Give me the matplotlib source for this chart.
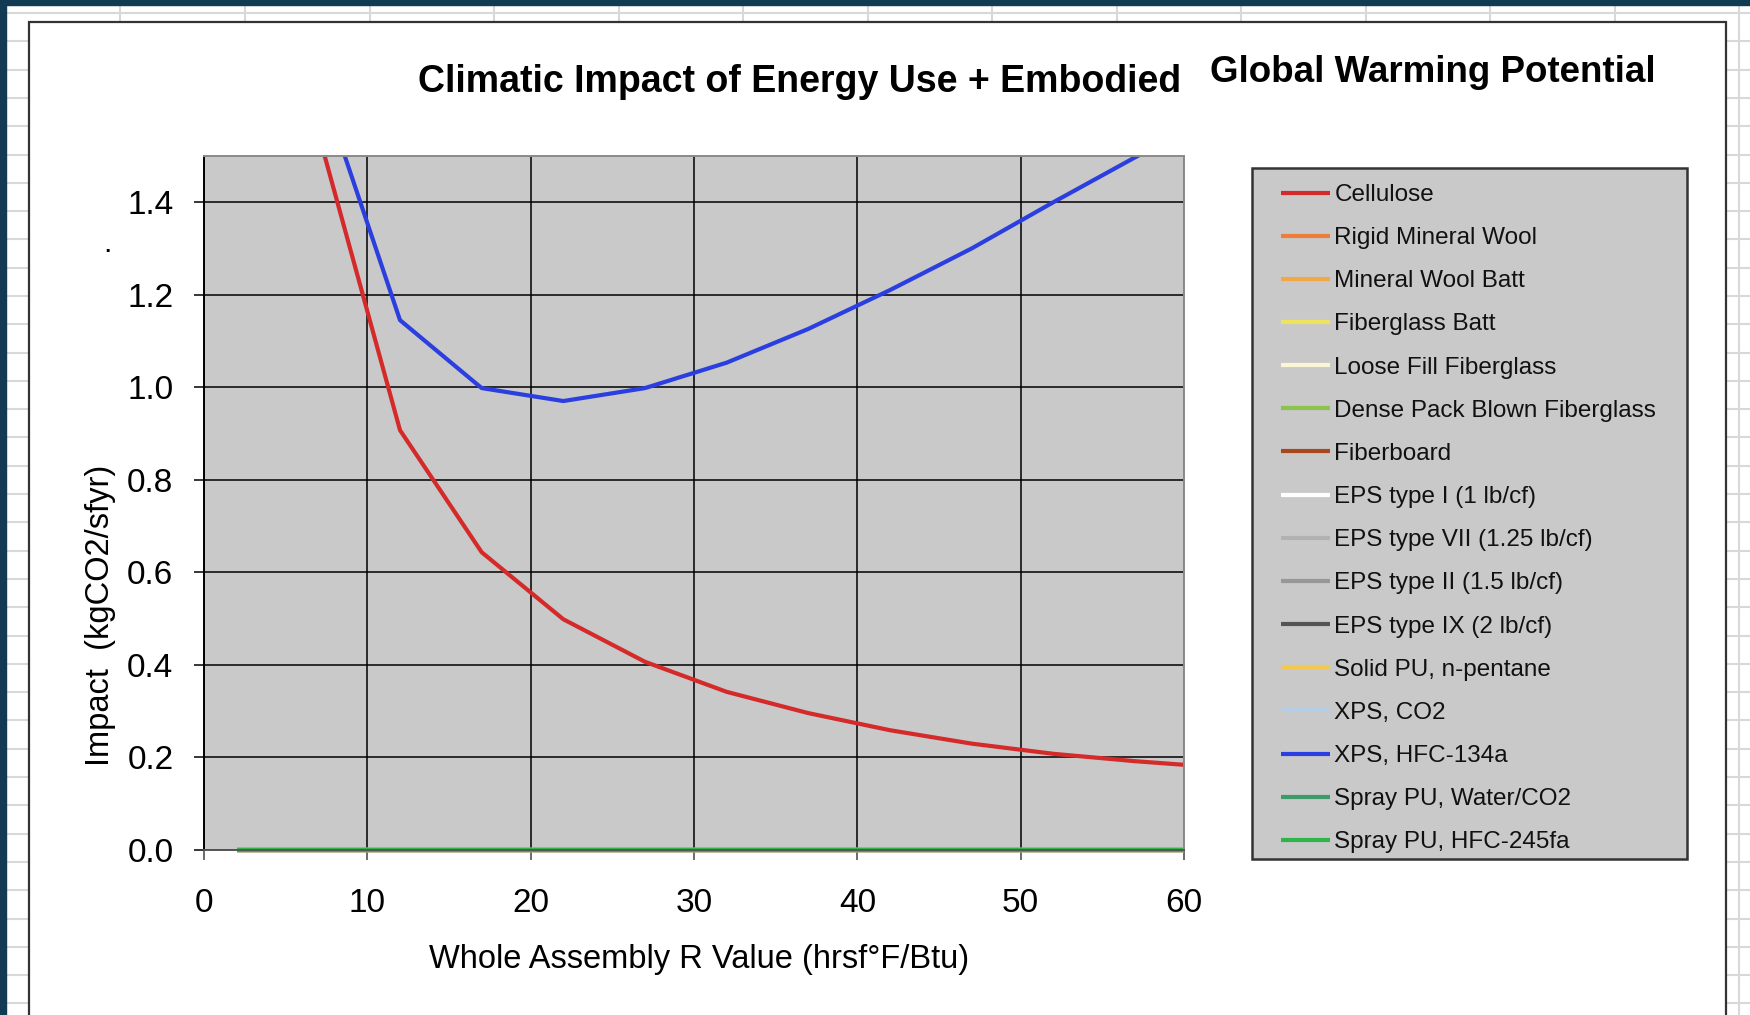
import matplotlib
matplotlib.use('Agg')
import matplotlib.pyplot as plt
from matplotlib.lines import Line2D
from matplotlib.patches import Rectangle
import numpy as np

W, H = 1750, 1015

# whole assembly R value of each calculated point
r_values = [2, 7, 12, 17, 22, 27, 32, 37, 42, 47, 52, 57, 62]

# impact (kgCO2/sfyr)
cellulose = [5.45, 1.55, 0.907, 0.643, 0.498, 0.406, 0.341, 0.295, 0.258, 0.229, 0.207, 0.191, 0.178]
xps_hfc134a = [5.90, 1.67, 1.145, 0.998, 0.970, 0.998, 1.053, 1.126, 1.210, 1.300, 1.400, 1.497, 1.590]
not_computed = [0, 0, 0, 0, 0, 0, 0, 0, 0, 0, 0, 0, 0]

materials = ['Cellulose', 'Rigid Mineral Wool', 'Mineral Wool Batt', 'Fiberglass Batt',
             'Loose Fill Fiberglass', 'Dense Pack Blown Fiberglass', 'Fiberboard',
             'EPS type I (1 lb/cf)', 'EPS type VII (1.25 lb/cf)', 'EPS type II (1.5 lb/cf)',
             'EPS type IX (2 lb/cf)', 'Solid PU, n-pentane', 'XPS, CO2', 'XPS, HFC-134a',
             'Spray PU, Water/CO2', 'Spray PU, HFC-245fa']
colors = ['#d42a2a', '#ef7d3a', '#f3a848', '#eee35c', '#fbf5d6', '#8cc34a', '#a8481c',
          '#ffffff', '#b2b2b2', '#979797', '#555555', '#f4c84f', '#b6cde6', '#2b3fe0',
          '#3f9a6a', '#2fb44a']
impacts = {'Cellulose': cellulose, 'XPS, HFC-134a': xps_hfc134a}

plt.rcParams['font.family'] = 'Liberation Sans'

fig = plt.figure(figsize=(W / 100, H / 100), dpi=100)
fig.patch.set_facecolor('white')

# spreadsheet cells behind the chart
for x in np.arange(-4, W, 124.5):
    fig.add_artist(Line2D([x / W, x / W], [0, 1], transform=fig.transFigure,
                          color='#d8d8d8', lw=1.5, zorder=0))
for y in np.arange(13, H, 28.3):
    fig.add_artist(Line2D([0, 1], [1 - y / H, 1 - y / H], transform=fig.transFigure,
                          color='#d8d8d8', lw=1.5, zorder=0))
fig.add_artist(Rectangle((0, 1 - 5 / H), 1, 5 / H, transform=fig.transFigure,
                         color='#123a52', zorder=1))
fig.add_artist(Rectangle((0, 0), 6 / W, 1, transform=fig.transFigure,
                         color='#123a52', zorder=1))
fig.add_artist(Rectangle((29 / W, -0.02), (1726 - 29) / W, (H - 22) / H + 0.02,
                         transform=fig.transFigure, facecolor='white',
                         edgecolor='#333333', lw=1.6, zorder=2))

ax = fig.add_axes([204 / W, 1 - 849.5 / H, 980 / W, 693.5 / H])
ax.set_zorder(5)
ax.set_facecolor('#c9c9c9')

clip = Rectangle((0, -0.01), 1, 1.01, transform=ax.transAxes, visible=False)
ax.add_patch(clip)
for name, col in zip(materials, colors):
    line, = ax.plot(r_values, impacts.get(name, not_computed), color=col, lw=3,
                    label=name, solid_capstyle='butt')
    line.set_clip_path(clip)

ax.set_xlim(0, 60)
ax.set_ylim(0, 1.5)
ax.set_xticks(range(0, 61, 10))
ax.set_yticks(np.arange(0, 1.41, 0.2))
ax.yaxis.set_major_formatter('{x:.1f}')
ax.grid(True, color='black', lw=1.1)
ax.set_axisbelow(True)
ax.tick_params(axis='both', direction='out', length=7, width=1.1, labelsize=24)
ax.tick_params(axis='y', pad=15)
ax.tick_params(axis='x', pad=21, color='#444444')
ax.spines['left'].set_color('black')
ax.spines['left'].set_linewidth(1.4)
ax.spines['bottom'].set_color('#555555')
ax.spines['bottom'].set_linewidth(1.4)
for side in ['top', 'right']:
    ax.spines[side].set_color('#8a8a8a')
    ax.spines[side].set_linewidth(1.4)

ax.set_xlabel('Whole Assembly R Value (hrsf°F/Btu)', fontsize=23.5)
ax.xaxis.set_label_coords(0.505, -0.158)
ax.xaxis.label.set_va('center')
ax.set_ylabel('Impact  (kgCO2/sfyr)', fontsize=23.5)
ax.yaxis.set_label_coords(-0.106, 0.337)
ax.yaxis.label.set_va('center')

# legend box
fig.add_artist(Rectangle((1252 / W, 1 - 859 / H), 435 / W, 691 / H, transform=fig.transFigure,
                         facecolor='#c9c9c9', edgecolor='#333333', lw=1.8, zorder=4))
ax.legend(loc='upper left', bbox_to_anchor=(1281 / W, 1 - 184 / H),
          bbox_transform=fig.transFigure, frameon=False, fontsize=17.5,
          handlelength=2.0, handletextpad=0.2, labelspacing=0.87, borderpad=0,
          borderaxespad=0, labelcolor='#111111')

fig.text(800 / W, 1 - 82 / H, 'Climatic Impact of Energy Use + Embodied', fontsize=27,
         fontweight='bold', ha='center', va='center', zorder=6)
fig.text(1433 / W, 1 - 73 / H, 'Global Warming Potential', fontsize=26.5,
         fontweight='bold', ha='center', va='center', zorder=6)
fig.text(107 / W, 1 - 252 / H, '.', fontsize=22, ha='center', va='baseline', zorder=6)

fig.savefig('out.png', dpi=100)
